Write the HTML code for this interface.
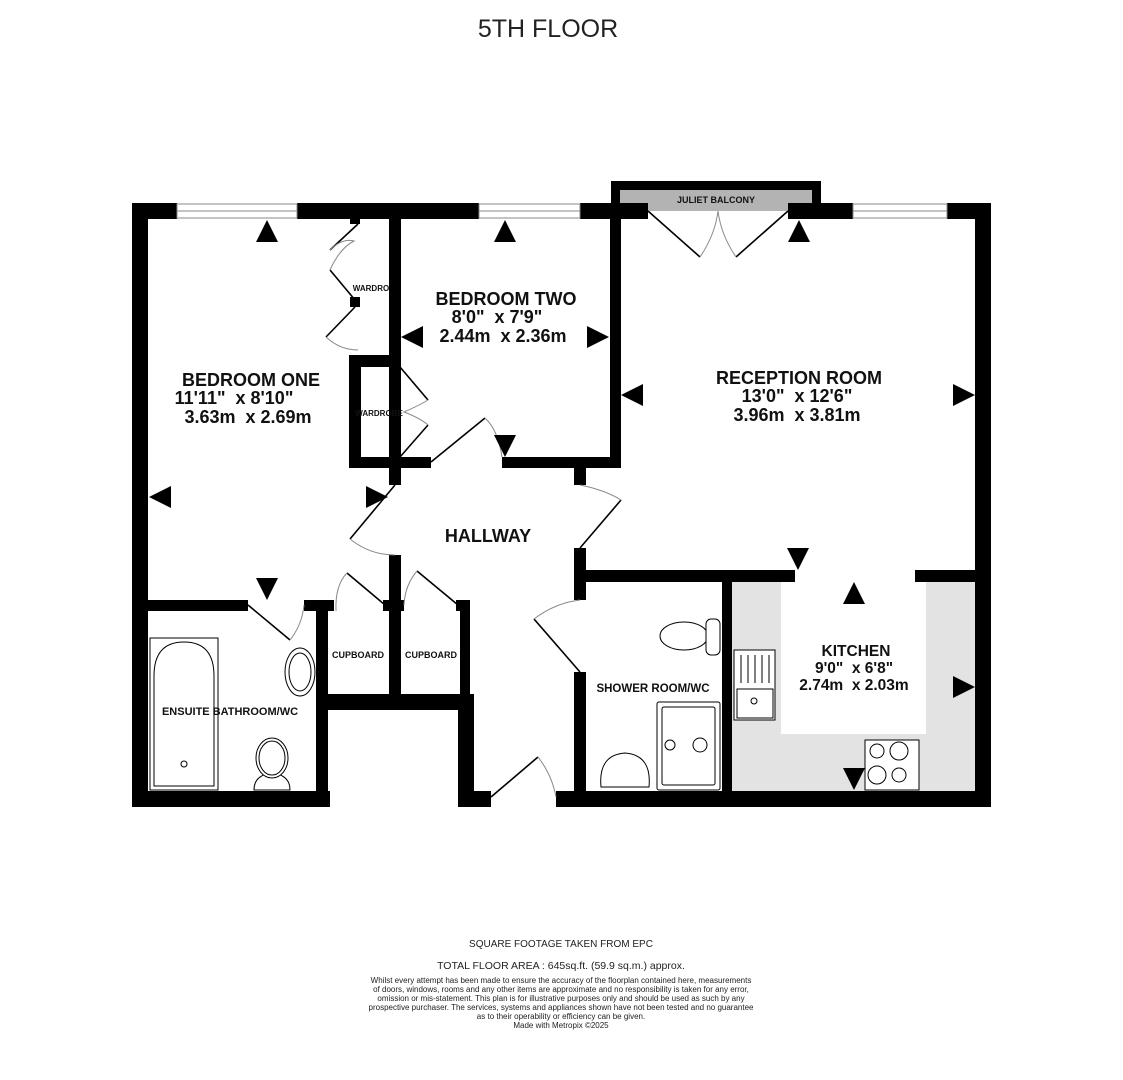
<!DOCTYPE html>
<html><head><meta charset="utf-8"><style>
body{margin:0;background:#fff;width:1123px;height:1080px;overflow:hidden}
svg{display:block}
text{white-space:pre}
.t{font-family:"Liberation Sans",Arial,sans-serif;font-weight:bold;fill:#111;text-anchor:middle}
.f{font-family:"Liberation Sans",Arial,sans-serif;fill:#222;text-anchor:middle}
</style></head><body>
<svg width="1123" height="1080" viewBox="0 0 1123 1080" xmlns="http://www.w3.org/2000/svg">
<text x="548" y="37" class="f" font-size="25" fill="#111">5TH FLOOR</text>

<rect x="732" y="582" width="243" height="209" fill="#e3e3e3"/>
<rect x="781" y="582" width="145" height="152" fill="#fff"/>

<rect x="611" y="181" width="210" height="22" fill="#000"/>
<rect x="620" y="190" width="192" height="21" fill="#b3b3b3"/>
<text x="716" y="203" class="t" font-size="9">JULIET BALCONY</text>

<g fill="#000">
<rect x="132" y="203" width="45" height="16"/>
<rect x="297" y="203" width="182" height="16"/>
<rect x="580" y="203" width="68" height="16"/>
<rect x="788" y="203" width="65" height="16"/>
<rect x="947" y="203" width="44" height="16"/>
<rect x="132" y="203" width="16" height="604"/>
<rect x="975" y="203" width="16" height="604"/>
<rect x="132" y="791" width="198" height="16"/>
<rect x="458" y="791" width="33" height="16"/>
<rect x="556" y="791" width="435" height="16"/>
<rect x="389" y="219" width="12" height="249"/>
<rect x="349" y="355" width="52" height="12"/>
<rect x="349" y="355" width="12" height="113"/>
<rect x="349" y="457" width="82" height="11"/>
<rect x="502" y="457" width="119" height="11"/>
<rect x="610" y="203" width="11" height="265"/>
<rect x="389" y="457" width="12" height="28"/>
<rect x="574" y="457" width="12" height="28"/>
<rect x="350" y="214" width="10" height="10"/>
<rect x="350" y="297" width="10" height="10"/>
<rect x="574" y="548" width="12" height="52"/>
<rect x="574" y="570" width="221" height="12"/>
<rect x="915" y="570" width="76" height="12"/>
<rect x="574" y="672" width="12" height="135"/>
<rect x="722" y="582" width="10" height="213"/>
<rect x="132" y="600" width="116" height="11"/>
<rect x="304" y="600" width="30" height="11"/>
<rect x="316" y="600" width="12" height="207"/>
<rect x="389" y="555" width="12" height="155"/>
<rect x="383" y="600" width="21" height="11"/>
<rect x="456" y="600" width="14" height="11"/>
<rect x="460" y="600" width="10" height="110"/>
<rect x="316" y="694" width="158" height="16"/>
<rect x="458" y="694" width="16" height="113"/>
</g>

<g fill="#fff" stroke="#888" stroke-width="1">
<rect x="177" y="204" width="120" height="14"/><line x1="177" y1="211" x2="297" y2="211"/>
<rect x="479" y="204" width="101" height="14"/><line x1="479" y1="211" x2="580" y2="211"/>
<rect x="853" y="204" width="94" height="14"/><line x1="853" y1="211" x2="947" y2="211"/>
</g>

<g stroke="#000" stroke-width="1.6" fill="none">
<line x1="648" y1="211" x2="700" y2="257"/><line x1="788" y1="211" x2="736" y2="257"/>
<line x1="358" y1="224" x2="330" y2="250"/><line x1="330" y1="270" x2="355" y2="300"/>
<line x1="355" y1="307" x2="326" y2="337"/>
<line x1="400" y1="367" x2="428" y2="400"/><line x1="428" y1="425" x2="400" y2="457"/>
<line x1="431" y1="462" x2="485" y2="418"/>
<line x1="395" y1="485" x2="350" y2="539"/>
<line x1="621" y1="500" x2="580" y2="548"/>
<line x1="248" y1="605" x2="290" y2="640"/>
<line x1="347" y1="573" x2="385" y2="605"/>
<line x1="417" y1="571" x2="458" y2="605"/>
<line x1="534" y1="619" x2="580" y2="672"/>
<line x1="491" y1="797" x2="538" y2="757"/>
</g>
<g stroke="#888" stroke-width="1" fill="none">
<path d="M700 257 Q715 235 718 211 Q721 235 736 257"/>
<path d="M330 250 Q342 238 354 241 Q340 248 330 270"/>
<path d="M326 337 Q340 350 358 350"/>
<path d="M428 400 Q420 405 404 412 Q420 418 428 425"/>
<path d="M485 418 Q498 430 502 457"/>
<path d="M350 539 Q370 555 395 555"/>
<path d="M580 485 Q605 490 621 500"/>
<path d="M290 640 Q302 625 304 605"/>
<path d="M347 573 Q335 585 336 611"/>
<path d="M417 571 Q405 585 404 605"/>
<path d="M534 619 Q555 603 580 600"/>
<path d="M538 757 Q552 775 556 797"/>
</g>

<g fill="#000">
<polygon points="267,220 256,242 278,242"/>
<polygon points="505,220 494,242 516,242"/>
<polygon points="799,220 788,242 810,242"/>
<polygon points="401,337 423,326 423,348"/>
<polygon points="609,337 587,326 587,348"/>
<polygon points="621,395 643,384 643,406"/>
<polygon points="975,395 953,384 953,406"/>
<polygon points="149,497 171,486 171,508"/>
<polygon points="388,497 366,486 366,508"/>
<polygon points="505,457 494,435 516,435"/>
<polygon points="267,600 256,578 278,578"/>
<polygon points="798,570 787,548 809,548"/>
<polygon points="854,582 843,604 865,604"/>
<polygon points="733,686 755,675 755,697"/>
<polygon points="975,687 953,676 953,698"/>
<polygon points="854,790 843,768 865,768"/>
</g>

<g stroke="#000" stroke-width="1" fill="#fff">
<rect x="150" y="638" width="68" height="152"/>
<path d="M154 786 L154 676 Q154 642 184 642 Q214 642 214 676 L214 786 Z"/>
<circle cx="184" cy="764" r="3"/>
<ellipse cx="300" cy="672" rx="15" ry="24"/><ellipse cx="300" cy="672" rx="11" ry="19"/>
<path d="M254 790 Q254 775 272 773 Q290 775 290 790 Z"/>
<ellipse cx="272" cy="758" rx="16" ry="20"/><ellipse cx="272" cy="758" rx="13" ry="17"/>
<ellipse cx="684" cy="636" rx="24" ry="14"/><rect x="706" y="619" width="14" height="36" rx="5"/>
<rect x="657" y="702" width="63" height="88" rx="2"/><rect x="662" y="707" width="53" height="78" rx="2"/>
<circle cx="670" cy="745" r="5"/><circle cx="700" cy="745" r="7"/>
<path d="M601 787 Q598 755 625 753 Q652 755 649 787 Z"/>
<rect x="734" y="650" width="41" height="70"/><rect x="737" y="689" width="36" height="29"/>
<circle cx="754" cy="701" r="3"/>
<rect x="865" y="740" width="54" height="50"/>
<circle cx="877" cy="751" r="7"/><circle cx="899" cy="751" r="9"/>
<circle cx="877" cy="775" r="9"/><circle cx="899" cy="775" r="7"/>
</g>
<g stroke="#000" stroke-width="1"><line x1="741" y1="655" x2="741" y2="683"/><line x1="748" y1="655" x2="748" y2="683"/><line x1="755" y1="655" x2="755" y2="683"/><line x1="762" y1="655" x2="762" y2="683"/><line x1="769" y1="655" x2="769" y2="683"/></g>

<text x="251" y="386" class="t" font-size="18">BEDROOM ONE</text>
<text x="234" y="404" class="t" font-size="18">11'11"  x 8'10"</text>
<text x="248" y="423" class="t" font-size="18">3.63m  x 2.69m</text>
<text x="506" y="305" class="t" font-size="18">BEDROOM TWO</text>
<text x="497" y="323" class="t" font-size="18">8'0"  x 7'9"</text>
<text x="503" y="342" class="t" font-size="18">2.44m  x 2.36m</text>
<text x="799" y="384" class="t" font-size="18">RECEPTION ROOM</text>
<text x="797" y="402" class="t" font-size="18">13'0"  x 12'6"</text>
<text x="797" y="421" class="t" font-size="18">3.96m  x 3.81m</text>
<text x="488" y="542" class="t" font-size="18">HALLWAY</text>
<text x="856" y="656" class="t" font-size="15.5">KITCHEN</text>
<text x="854" y="673" class="t" font-size="15.5">9'0"  x 6'8"</text>
<text x="854" y="690" class="t" font-size="15.5">2.74m  x 2.03m</text>
<text x="653" y="692" class="t" font-size="11.5">SHOWER ROOM/WC</text>
<text x="230" y="715" class="t" font-size="11">ENSUITE BATHROOM/WC</text>
<text x="358" y="658" class="t" font-size="9">CUPBOARD</text>
<text x="431" y="658" class="t" font-size="9">CUPBOARD</text>
<text x="371" y="291" class="t" font-size="8">WARDRO</text>
<text x="379" y="416" class="t" font-size="8">WARDROBE</text>

<text x="561" y="947" class="f" font-size="10">SQUARE FOOTAGE TAKEN FROM EPC</text>
<text x="561" y="969" class="f" font-size="10.5">TOTAL FLOOR AREA : 645sq.ft. (59.9 sq.m.) approx.</text>
<g class="f" font-size="8">
<text x="561" y="983">Whilst every attempt has been made to ensure the accuracy of the floorplan contained here, measurements</text>
<text x="561" y="992">of doors, windows, rooms and any other items are approximate and no responsibility is taken for any error,</text>
<text x="561" y="1001">omission or mis-statement. This plan is for illustrative purposes only and should be used as such by any</text>
<text x="561" y="1010">prospective purchaser. The services, systems and appliances shown have not been tested and no guarantee</text>
<text x="561" y="1019">as to their operability or efficiency can be given.</text>
<text x="561" y="1028">Made with Metropix ©2025</text>
</g>
</svg>
</body></html>
